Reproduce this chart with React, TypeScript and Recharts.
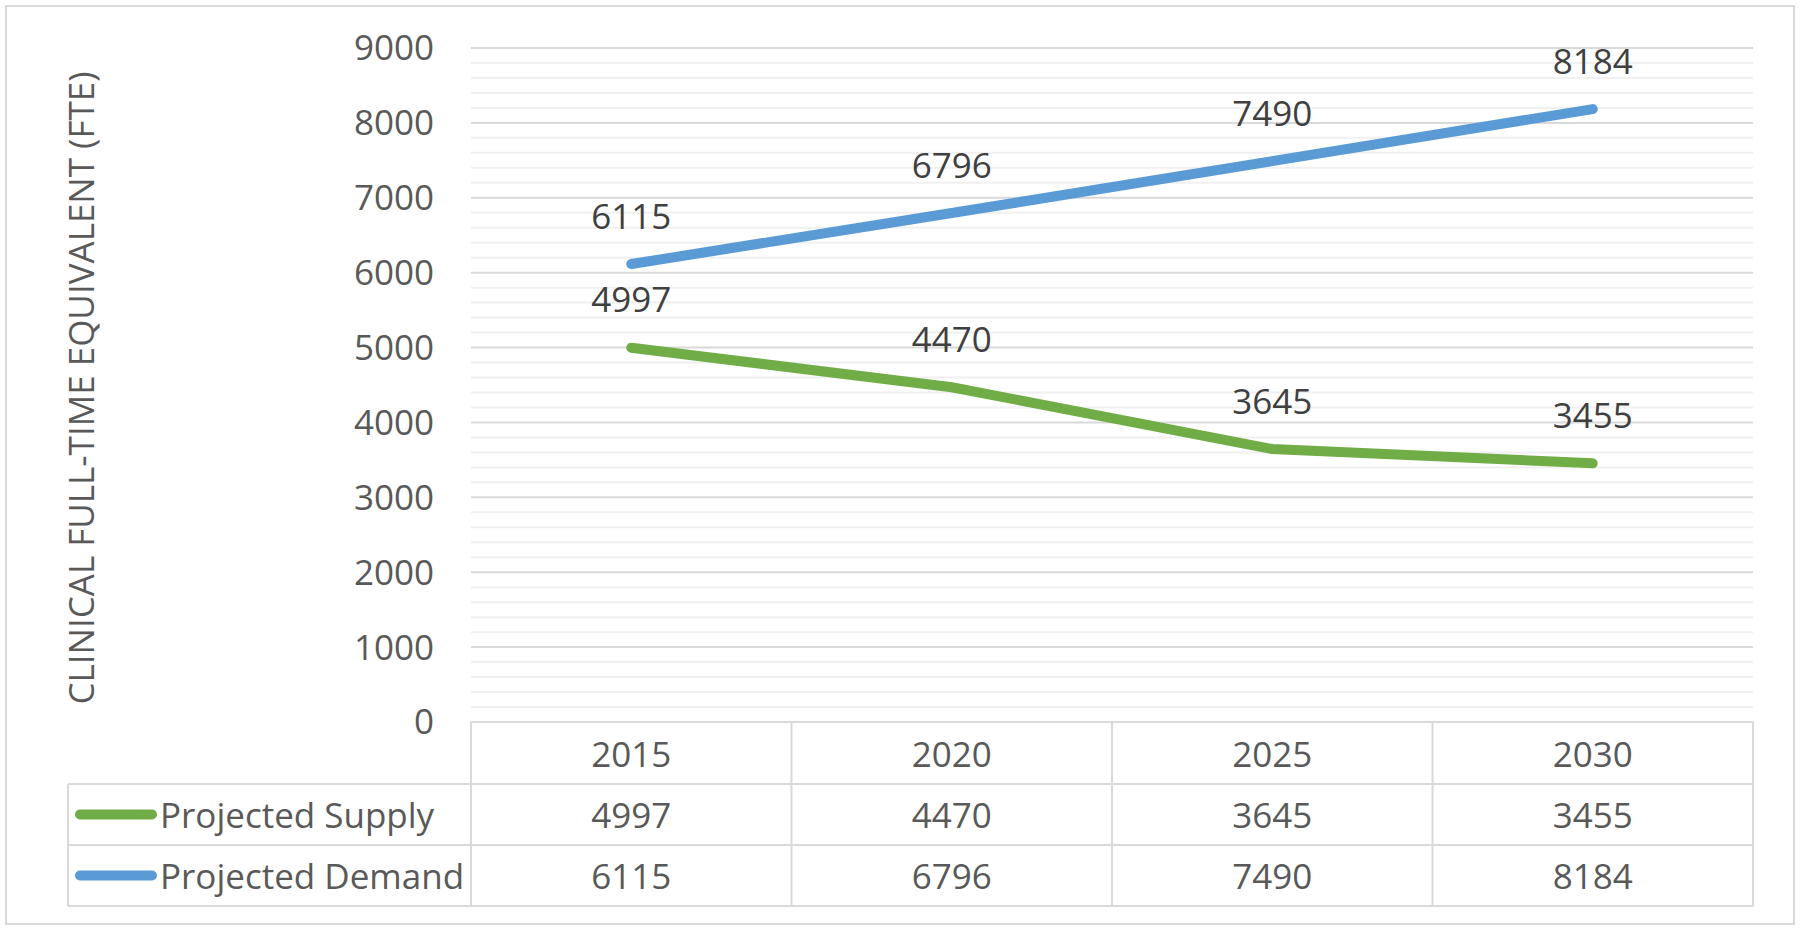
import { LabelList, Line, LineChart, ReferenceLine, XAxis, YAxis } from "recharts";

const years = ["2015", "2020", "2025", "2030"];
const projectedSupply = [4997, 4470, 3645, 3455];
const projectedDemand = [6115, 6796, 7490, 8184];
const yTicks = [0, 1000, 2000, 3000, 4000, 5000, 6000, 7000, 8000, 9000];

const seriesInfo = [
  { key: "supply", name: "Projected Supply", color: "#70ad47", values: projectedSupply },
  { key: "demand", name: "Projected Demand", color: "#5b9bd5", values: projectedDemand }
];

const rows = years.map((year, i) => ({
  year,
  supply: projectedSupply[i],
  demand: projectedDemand[i]
}));

// light gridlines every 200 between the major ones
const minorTicks = Array.from({ length: 45 }, (_, i) => (i + 1) * 200).filter((v) => v % 1000 !== 0);

const W = 1800;
const H = 931;
const PLOT_LEFT = 471;
const PLOT_RIGHT = 1753;
const PLOT_TOP = 48;
const PLOT_BOTTOM = 722;
const ROW_1 = 784;
const ROW_2 = 845;
const ROW_3 = 906;
const LEGEND_LEFT = 68;
const COL_W = (PLOT_RIGHT - PLOT_LEFT) / years.length;
const X_AXIS_H = ROW_1 - PLOT_BOTTOM;

const FONT = "'Open Sans', 'Noto Sans', sans-serif";
const GRID = "#d9d9d9";
const TEXT = "#595959";

const YearTick = ({ x, y, payload }: any) => (
  <text dominantBaseline="central" fill={TEXT} fontFamily={FONT} fontSize={35} textAnchor="middle" x={x} y={y + 31}>
    {payload.value}
  </text>
);

const ValueLabel = ({ x, y, value }: any) => (
  <text dominantBaseline="central" fill="#404040" fontFamily={FONT} fontSize={35} textAnchor="middle" x={x} y={y - 49}>
    {value}
  </text>
);

function DataTable() {
  const rowTops = [ROW_1, ROW_2];
  return (
    <svg height={H} style={{ left: 0, pointerEvents: "none", position: "absolute", top: 0 }} width={W}>
      <rect fill="none" height={924 - 6} stroke={GRID} strokeWidth={2} width={1794 - 6} x={6} y={6} />
      <text
        dominantBaseline="central"
        fill={TEXT}
        fontFamily={FONT}
        fontSize={35}
        textAnchor="middle"
        transform="translate(80,388) rotate(-90)"
      >
        CLINICAL FULL-TIME EQUIVALENT (FTE)
      </text>
      {[ROW_1, ROW_2, ROW_3].map((yy) => (
        <line key={yy} stroke={GRID} strokeWidth={2} x1={LEGEND_LEFT} x2={PLOT_RIGHT} y1={yy} y2={yy} />
      ))}
      <line stroke={GRID} strokeWidth={2} x1={LEGEND_LEFT} x2={LEGEND_LEFT} y1={ROW_1} y2={ROW_3} />
      {years.map((_, i) => (
        <line
          key={i}
          stroke={GRID}
          strokeWidth={2}
          x1={PLOT_LEFT + i * COL_W}
          x2={PLOT_LEFT + i * COL_W}
          y1={PLOT_BOTTOM}
          y2={ROW_3}
        />
      ))}
      <line stroke={GRID} strokeWidth={2} x1={PLOT_RIGHT} x2={PLOT_RIGHT} y1={PLOT_BOTTOM} y2={ROW_3} />
      {seriesInfo.map((s, r) => {
        const cy = (rowTops[r] + (r === 0 ? ROW_2 : ROW_3)) / 2;
        return (
          <g key={s.key}>
            <line stroke={s.color} strokeLinecap="round" strokeWidth={10} x1={80} x2={152} y1={cy} y2={cy} />
            <text dominantBaseline="central" fill={TEXT} fontFamily={FONT} fontSize={35} x={160} y={cy}>
              {s.name}
            </text>
            {s.values.map((v, i) => (
              <text
                dominantBaseline="central"
                fill={TEXT}
                fontFamily={FONT}
                fontSize={35}
                key={i}
                textAnchor="middle"
                x={PLOT_LEFT + (i + 0.5) * COL_W}
                y={cy}
              >
                {v}
              </text>
            ))}
          </g>
        );
      })}
    </svg>
  );
}

export default function App() {
  return (
    <div style={{ background: "#fff", height: H, left: 0, position: "absolute", top: 0, width: W }}>
      <LineChart
        data={rows}
        height={H}
        margin={{ bottom: H - PLOT_BOTTOM - X_AXIS_H, left: PLOT_LEFT - 100, right: W - PLOT_RIGHT, top: PLOT_TOP }}
        width={W}
      >
        {minorTicks.map((v) => (
          <ReferenceLine key={v} stroke="#f0f0f0" strokeWidth={2} y={v} />
        ))}
        {yTicks.slice(1).map((v) => (
          <ReferenceLine key={v} stroke={GRID} strokeWidth={2} y={v} />
        ))}
        <XAxis
          axisLine={{ stroke: GRID, strokeWidth: 2 }}
          dataKey="year"
          height={X_AXIS_H}
          padding={{ left: COL_W / 2, right: COL_W / 2 }}
          tick={<YearTick />}
          tickLine={false}
          tickMargin={0}
          tickSize={0}
        />
        <YAxis
          axisLine={false}
          domain={[0, 9000]}
          tick={{ fill: TEXT, fontFamily: FONT, fontSize: 35 }}
          tickLine={false}
          tickMargin={37}
          tickSize={0}
          ticks={yTicks}
          width={100}
        />
        {seriesInfo.map((s) => (
          <Line
            dataKey={s.key}
            dot={false}
            isAnimationActive={false}
            key={s.key}
            name={s.name}
            stroke={s.color}
            strokeLinecap="round"
            strokeWidth={10}
            type="linear"
          >
            <LabelList content={<ValueLabel />} dataKey={s.key} />
          </Line>
        ))}
      </LineChart>
      <DataTable />
    </div>
  );
}
